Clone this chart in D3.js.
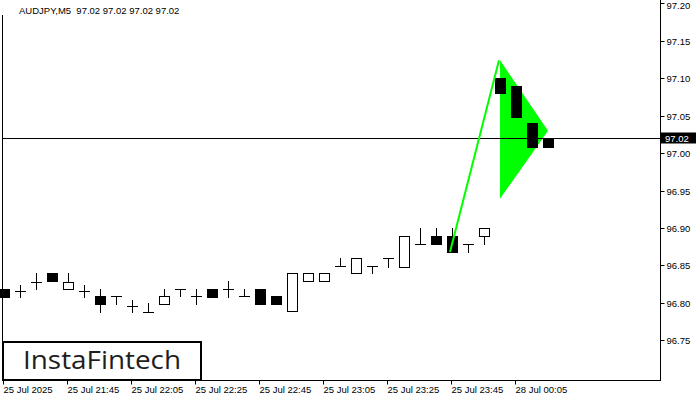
<!DOCTYPE html>
<html><head><meta charset="utf-8">
<script src="https://cdn.jsdelivr.net/npm/d3@7"></script>
<style>html,body{margin:0;padding:0;background:#fff;}svg{display:block;}</style>
</head><body>
<svg id="c" width="700" height="400"></svg>
<script>
const symbolTitle = "AUDJPY,M5  97.02 97.02 97.02 97.02";
const currentPrice = 97.02;
const opens  = [96.819,96.816,96.828,96.840,96.819,96.816,96.809,96.809,96.796,96.788,96.799,96.819,96.809,96.819,96.819,96.809,96.819,96.809,96.789,96.829,96.829,96.849,96.840,96.849,96.860,96.848,96.879,96.889,96.889,96.879,96.889,97.100,97.090,97.040,97.020];
const highs  = [96.819,96.824,96.840,96.840,96.840,96.824,96.819,96.809,96.804,96.800,96.819,96.819,96.819,96.819,96.829,96.819,96.819,96.809,96.840,96.840,96.840,96.860,96.860,96.849,96.860,96.889,96.900,96.900,96.900,96.879,96.900,97.100,97.090,97.040,97.020];
const lows   = [96.808,96.808,96.819,96.829,96.819,96.808,96.788,96.799,96.788,96.788,96.799,96.809,96.799,96.808,96.808,96.809,96.799,96.799,96.789,96.829,96.829,96.849,96.840,96.840,96.848,96.848,96.879,96.879,96.868,96.868,96.879,97.080,97.048,97.008,97.008];
const closes = [96.808,96.816,96.828,96.829,96.828,96.816,96.799,96.809,96.796,96.788,96.809,96.819,96.809,96.808,96.819,96.809,96.799,96.799,96.840,96.840,96.840,96.849,96.860,96.849,96.860,96.889,96.879,96.879,96.868,96.879,96.900,97.080,97.048,97.008,97.008];
const timeTickIdx = [0,4,8,12,16,20,24,28,32];
const timeTickLabels = ["25 Jul 2025","25 Jul 21:45","25 Jul 22:05","25 Jul 22:25","25 Jul 22:45","25 Jul 23:05","25 Jul 23:25","25 Jul 23:45","28 Jul 00:05"];
const priceTicks = [96.75,96.80,96.85,96.90,96.95,97.00,97.05,97.10,97.15,97.20];
// pennant pattern: [candle index, price]
const poleIdx = [28,31];
const polePrice = [96.868,97.124];
const triIdx = [31,34,31];
const triPrice = [97.124,97.030,96.939];
const brand = "InstaFintech";

const svg = d3.select("#c");
const FONT = "'Liberation Sans', Arial, sans-serif";
const x = d3.scaleLinear().domain([0,34]).range([4,548]);
const y = d3.scaleLinear().domain([96.70,97.20]).range([377.8,3.3]);
const px = v => Math.round(v) + 0.5;

// pattern triangle (behind)
const tri = triIdx.map((d,i)=>[x(d), y(triPrice[i])]);
svg.append("path").attr("d", d3.line()(tri) + "Z").attr("fill","#00ff00");

// current price line
svg.append("line").attr("x1",2).attr("x2",660).attr("y1",px(y(currentPrice))).attr("y2",px(y(currentPrice)))
  .attr("stroke","#000").attr("stroke-width",1);

// candles
const g = svg.append("g");
opens.forEach((o,i)=>{
  const c = closes[i], h = highs[i], l = lows[i];
  const cx = Math.round(x(i));
  const yH = Math.round(y(h)), yL = Math.round(y(l));
  const yO = Math.round(y(o)), yC = Math.round(y(c));
  if (yH !== yL) g.append("line").attr("x1",cx+0.5).attr("x2",cx+0.5).attr("y1",yH).attr("y2",yL+1).attr("stroke","#000");
  if (yO === yC) {
    g.append("line").attr("x1",cx-5).attr("x2",cx+6).attr("y1",yO+0.5).attr("y2",yO+0.5).attr("stroke","#000");
  } else if (c < o) {
    g.append("rect").attr("x",cx-5).attr("y",yO).attr("width",11).attr("height",yC-yO+1).attr("fill","#000");
  } else {
    g.append("rect").attr("x",cx-4.5).attr("y",yC+0.5).attr("width",10).attr("height",yO-yC).attr("fill","#fff").attr("stroke","#000");
  }
});

// pole line
svg.append("line").attr("x1",x(poleIdx[0])-2).attr("y1",y(polePrice[0])).attr("x2",x(poleIdx[1])-1).attr("y2",y(polePrice[1]))
  .attr("stroke","#00ff00").attr("stroke-width",2);

// frame
svg.append("line").attr("x1",2.5).attr("x2",2.5).attr("y1",15).attr("y2",381).attr("stroke","#000");
svg.append("line").attr("x1",660.5).attr("x2",660.5).attr("y1",0).attr("y2",381).attr("stroke","#000");
svg.append("line").attr("x1",2).attr("x2",661).attr("y1",380.5).attr("y2",380.5).attr("stroke","#000");

// price axis
const ya = svg.append("g").attr("transform","translate(660.5,0)")
  .call(d3.axisRight(y).tickValues(priceTicks).tickSize(4).tickPadding(2).tickFormat(d3.format(".2f")));
ya.select(".domain").remove();
ya.selectAll(".tick").attr("transform", d=>`translate(0,${px(y(d))})`);
ya.selectAll("text").attr("font-family",FONT).attr("font-size","9.5px").attr("fill","#000")
  .attr("y", d => (px(y(d)) < 6 ? 6 - px(y(d)) : 0));
ya.selectAll("line").attr("stroke","#000");

// current price label
const cy = px(y(currentPrice));
svg.append("rect").attr("x",661).attr("y",cy-6).attr("width",35).attr("height",11).attr("fill","#000");
svg.append("text").attr("x",665).attr("y",cy).attr("dy","0.34em").attr("font-family",FONT).attr("font-size","9.5px")
  .attr("fill","#fff").text(d3.format(".2f")(currentPrice));

// time axis
const xa = svg.append("g").attr("transform","translate(0,380.5)")
  .call(d3.axisBottom(x).tickValues(timeTickIdx).tickSize(4).tickFormat((d,i)=>timeTickLabels[i]));
xa.select(".domain").remove();
xa.selectAll(".tick").attr("transform", d=>`translate(${Math.round(x(d))-0.5},0)`);
xa.selectAll("text").attr("font-family",FONT).attr("font-size","9.5px").attr("fill","#000")
  .attr("text-anchor","start").attr("x",0).attr("y",6).attr("dy","0.71em");
xa.selectAll("line").attr("stroke","#000");

// title
svg.append("text").attr("x",19).attr("y",14).attr("font-family",FONT).attr("font-size","9.5px").attr("fill","#000")
  .attr("xml:space","preserve").style("white-space","pre").text(symbolTitle);

// logo
svg.append("rect").attr("x",3).attr("y",342).attr("width",198).attr("height",38).attr("fill","#fff").attr("stroke","#000").attr("stroke-width",2);
svg.append("text").attr("x",23).attr("y",369).attr("font-family","'Open Sans', sans-serif").attr("font-size","25px")
  .attr("font-weight",500).attr("fill","#1e1e1e").attr("textLength",158).attr("lengthAdjust","spacingAndGlyphs").text(brand);
</script>
</body></html>
